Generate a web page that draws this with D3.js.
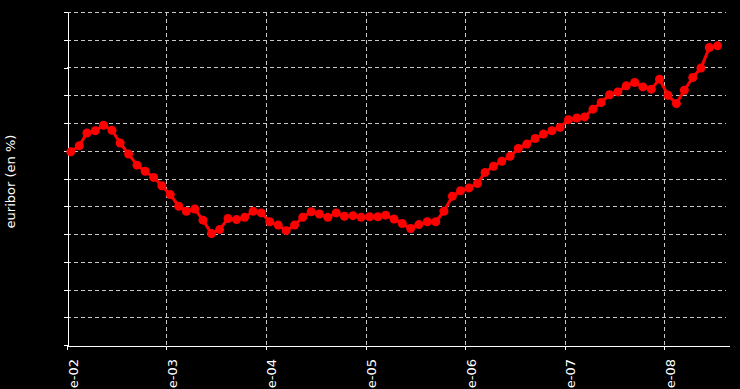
<!DOCTYPE html>
<html>
<head>
<meta charset="utf-8">
<script src="https://cdn.jsdelivr.net/npm/d3@7"></script>
<style>
  html, body { margin: 0; padding: 0; background: #000; }
  svg { display: block; }
</style>
</head>
<body>
<svg id="chart" width="740" height="389"></svg>
<script>
// ---- data (12-month Euribor, monthly averages, %) ----
const years = [2002, 2003, 2004, 2005, 2006, 2007, 2008];
const values2002 = [3.48, 3.59, 3.82, 3.86, 3.96, 3.87, 3.64, 3.44, 3.24, 3.13, 3.02, 2.87];
const values2003 = [2.71, 2.50, 2.41, 2.45, 2.25, 2.01, 2.08, 2.28, 2.26, 2.30, 2.41, 2.38];
const values2004 = [2.22, 2.16, 2.06, 2.16, 2.30, 2.40, 2.36, 2.30, 2.38, 2.32, 2.33, 2.30];
const values2005 = [2.31, 2.31, 2.34, 2.27, 2.19, 2.10, 2.17, 2.22, 2.22, 2.41, 2.68, 2.78];
const values2006 = [2.83, 2.91, 3.11, 3.22, 3.31, 3.40, 3.54, 3.62, 3.72, 3.80, 3.86, 3.92];
const values2007 = [4.06, 4.09, 4.11, 4.25, 4.37, 4.51, 4.56, 4.67, 4.73, 4.65, 4.61, 4.79];
const values2008 = [4.50, 4.35, 4.59, 4.82, 4.99, 5.36, 5.39];
const tickLabels = ["e-02", "e-03", "e-04", "e-05", "e-06", "e-07", "e-08"];
const yTicks = [0, 0.5, 1, 1.5, 2, 2.5, 3, 3.5, 4, 4.5, 5, 5.5, 6];
const yLabel = "euribor (en %)";

const yearValues = [values2002, values2003, values2004, values2005, values2006, values2007, values2008];
const data = [];
yearValues.forEach((vals, yi) => {
  vals.forEach((v, m) => data.push({ date: new Date(years[yi], m, 15), value: v }));
});

// ---- layout ----
const svg = d3.select("#chart");
const mLeft = 67, mRight = 729, mTop = 12, mBottom = 345;

const x = d3.scaleTime()
  .domain([new Date(2002, 0, 1), new Date(2008, 7, 26)])
  .range([mLeft, mRight]);
const y = d3.scaleLinear().domain([0, 6]).range([mBottom, mTop]);

svg.append("rect").attr("width", 740).attr("height", 389).attr("fill", "#000");

const tickDates = years.map(yr => new Date(yr, 0, 1));

// grid
const grid = svg.append("g").attr("stroke", "#c8c8c8").attr("stroke-width", 1)
  .attr("stroke-dasharray", "4,3").attr("shape-rendering", "crispEdges");
grid.selectAll("line.h").data(yTicks.slice(1)).join("line")
  .attr("class", "h")
  .attr("x1", mLeft).attr("x2", mRight - 3)
  .attr("y1", d => Math.round(y(d)) + 0.5).attr("y2", d => Math.round(y(d)) + 0.5);
grid.selectAll("line.v").data(tickDates.slice(1)).join("line")
  .attr("class", "v")
  .attr("x1", d => Math.round(x(d)) + 0.5).attr("x2", d => Math.round(x(d)) + 0.5)
  .attr("y1", mTop).attr("y2", mBottom);

// y axis
const yAxis = svg.append("g")
  .attr("transform", `translate(${mLeft + 0.5},0)`)
  .call(d3.axisLeft(y).tickValues(yTicks).tickSize(4).tickSizeOuter(0).tickFormat(""));
yAxis.selectAll("path, line").attr("stroke", "#fff").attr("shape-rendering", "crispEdges");

// x axis
const xAxis = svg.append("g")
  .attr("transform", `translate(0,${mBottom + 0.5})`)
  .call(d3.axisBottom(x).tickValues(tickDates).tickSize(4).tickSizeOuter(0).tickFormat(""));
xAxis.selectAll("path, line").attr("stroke", "#fff").attr("shape-rendering", "crispEdges");

// x tick labels (rotated)
svg.append("g").selectAll("text").data(tickDates).join("text")
  .attr("transform", d => `translate(${x(d) + 10.5},359) rotate(-90)`)
  .attr("text-anchor", "end")
  .attr("fill", "#fff")
  .attr("font-family", "DejaVu Sans, sans-serif")
  .attr("font-size", 13)
  .text((d, i) => tickLabels[i]);

// y label
svg.append("text")
  .attr("transform", "translate(15,181.5) rotate(-90)")
  .attr("text-anchor", "middle")
  .attr("fill", "#fff")
  .attr("font-family", "DejaVu Sans, sans-serif")
  .attr("font-size", 13)
  .text(yLabel);

// series
const line = d3.line().x(d => x(d.date)).y(d => y(d.value));
svg.append("path").datum(data)
  .attr("fill", "none").attr("stroke", "#ff0000").attr("stroke-width", 3)
  .attr("stroke-linejoin", "round")
  .attr("d", line);
svg.append("g").selectAll("circle").data(data).join("circle")
  .attr("cx", d => x(d.date)).attr("cy", d => y(d.value))
  .attr("r", 4.5).attr("fill", "#ff0000");
</script>
</body>
</html>
